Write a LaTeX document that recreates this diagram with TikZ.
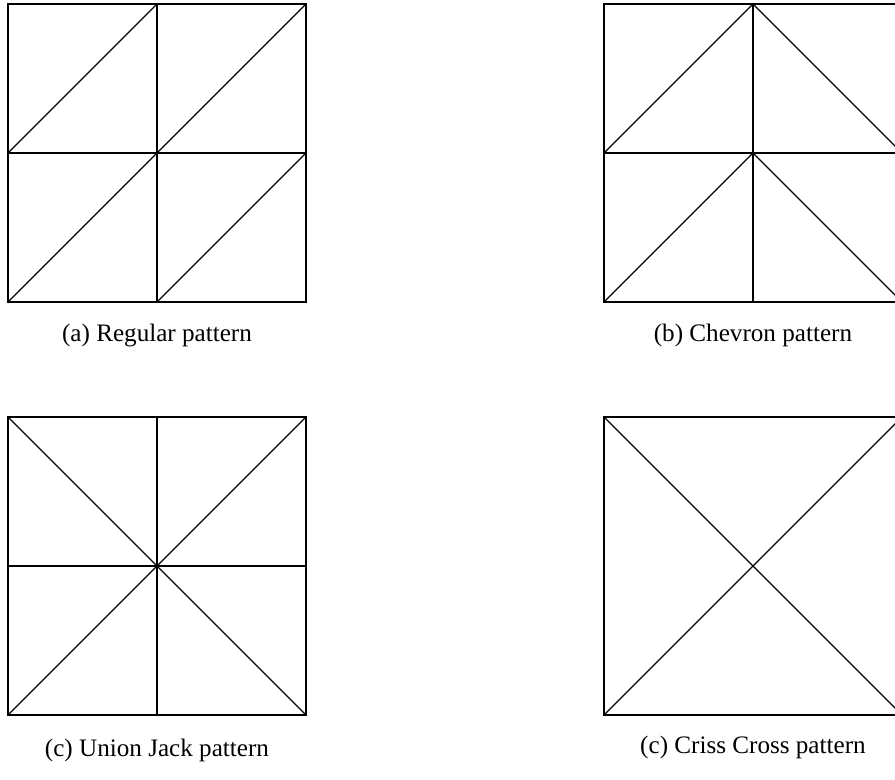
\documentclass[tikz,border=0pt]{standalone}
\usepackage{fontspec}
\setmainfont{Liberation Serif}
\begin{document}
\begin{tikzpicture}[every node/.style={font=\fontsize{12}{14}\selectfont, anchor=base},
                    tile/.style={line width=0.6pt}]
    \clip (0,0) rectangle (15.017,13.087);
    % (a) regular
    \begin{scope}[shift={(0.134,8.02)}]
        \draw[tile] (0,0) rectangle (5,5) (2.5,0) -- (2.5,5) (0,2.5) -- (5,2.5);
        \foreach \i in {0,2.5} {
            \foreach \j in {0,2.5} {
                \draw[tile] (\i,\j) -- ++(2.5,2.5);
            }
        }
    \end{scope}
    % (b) chevron
    \begin{scope}[shift={(10.134,8.02)}]
        \draw[tile] (0,0) rectangle (5,5) (2.5,0) -- (2.5,5) (0,2.5) -- (5,2.5);
        \foreach \j in {0,2.5} {
            \draw[tile] (0,\j) -- ++(2.5,2.5) -- ++(2.5,-2.5);
        }
    \end{scope}
    % (c) union jack
    \begin{scope}[shift={(0.134,1.091)}]
        \draw[tile] (0,0) rectangle (5,5) (2.5,0) -- (2.5,5) (0,2.5) -- (5,2.5);
        \draw[tile] (0,0) -- (5,5) (0,5) -- (5,0);
    \end{scope}
    % (d) criss cross
    \begin{scope}[shift={(10.134,1.091)}]
        \draw[tile] (0,0) rectangle (5,5);
        \draw[tile] (0,0) -- (5,5) (0,5) -- (5,0);
    \end{scope}
    \node (capa) at (2.634,7.365) {(a) Regular pattern};
    \node (capb) at (12.634,7.365) {(b) Chevron pattern};
    \node (capc) at (2.634,0.39) {(c) Union Jack pattern};
    \node (capd) at (12.634,0.44) {(c) Criss Cross pattern};
\end{tikzpicture}
\end{document}
